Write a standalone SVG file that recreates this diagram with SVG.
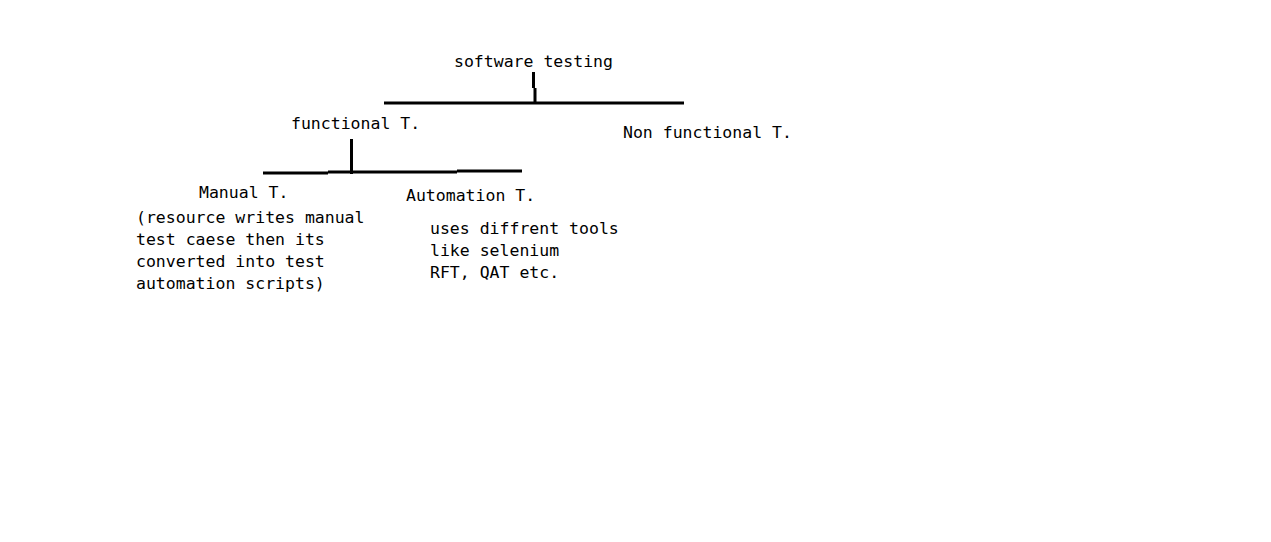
<svg xmlns="http://www.w3.org/2000/svg" width="1271" height="542" viewBox="0 0 1271 542">
<style>
text{font-family:"DejaVu Sans Mono","Liberation Mono",monospace;font-size:16.5px;fill:#000}
.ln{stroke:#000;stroke-width:3;fill:none}
</style>
<rect width="1271" height="542" fill="#fff"/>
<g id="connectors">
<path class="ln" d="M384 103H684"/>
<path class="ln" d="M533.5 72V88M535 88V103"/>
<path class="ln" d="M263 173H328M328 172H457M457 171H522"/>
<path class="ln" d="M351.5 139V174"/>
</g>
<g id="software-testing"><text x="454" y="67">software testing</text></g>
<g id="functional"><text x="291" y="129">functional T.</text></g>
<g id="non-functional"><text x="623" y="138">Non functional T.</text></g>
<g id="manual">
<text x="199" y="198">Manual T.</text>
<text x="136" y="223">(resource writes manual</text>
<text x="136" y="245">test caese then its</text>
<text x="136" y="267">converted into test</text>
<text x="136" y="289">automation scripts)</text>
</g>
<g id="automation">
<text x="406" y="201">Automation T.</text>
<text x="430" y="234">uses diffrent tools</text>
<text x="430" y="256">like selenium</text>
<text x="430" y="278">RFT, QAT etc.</text>
</g>
</svg>
